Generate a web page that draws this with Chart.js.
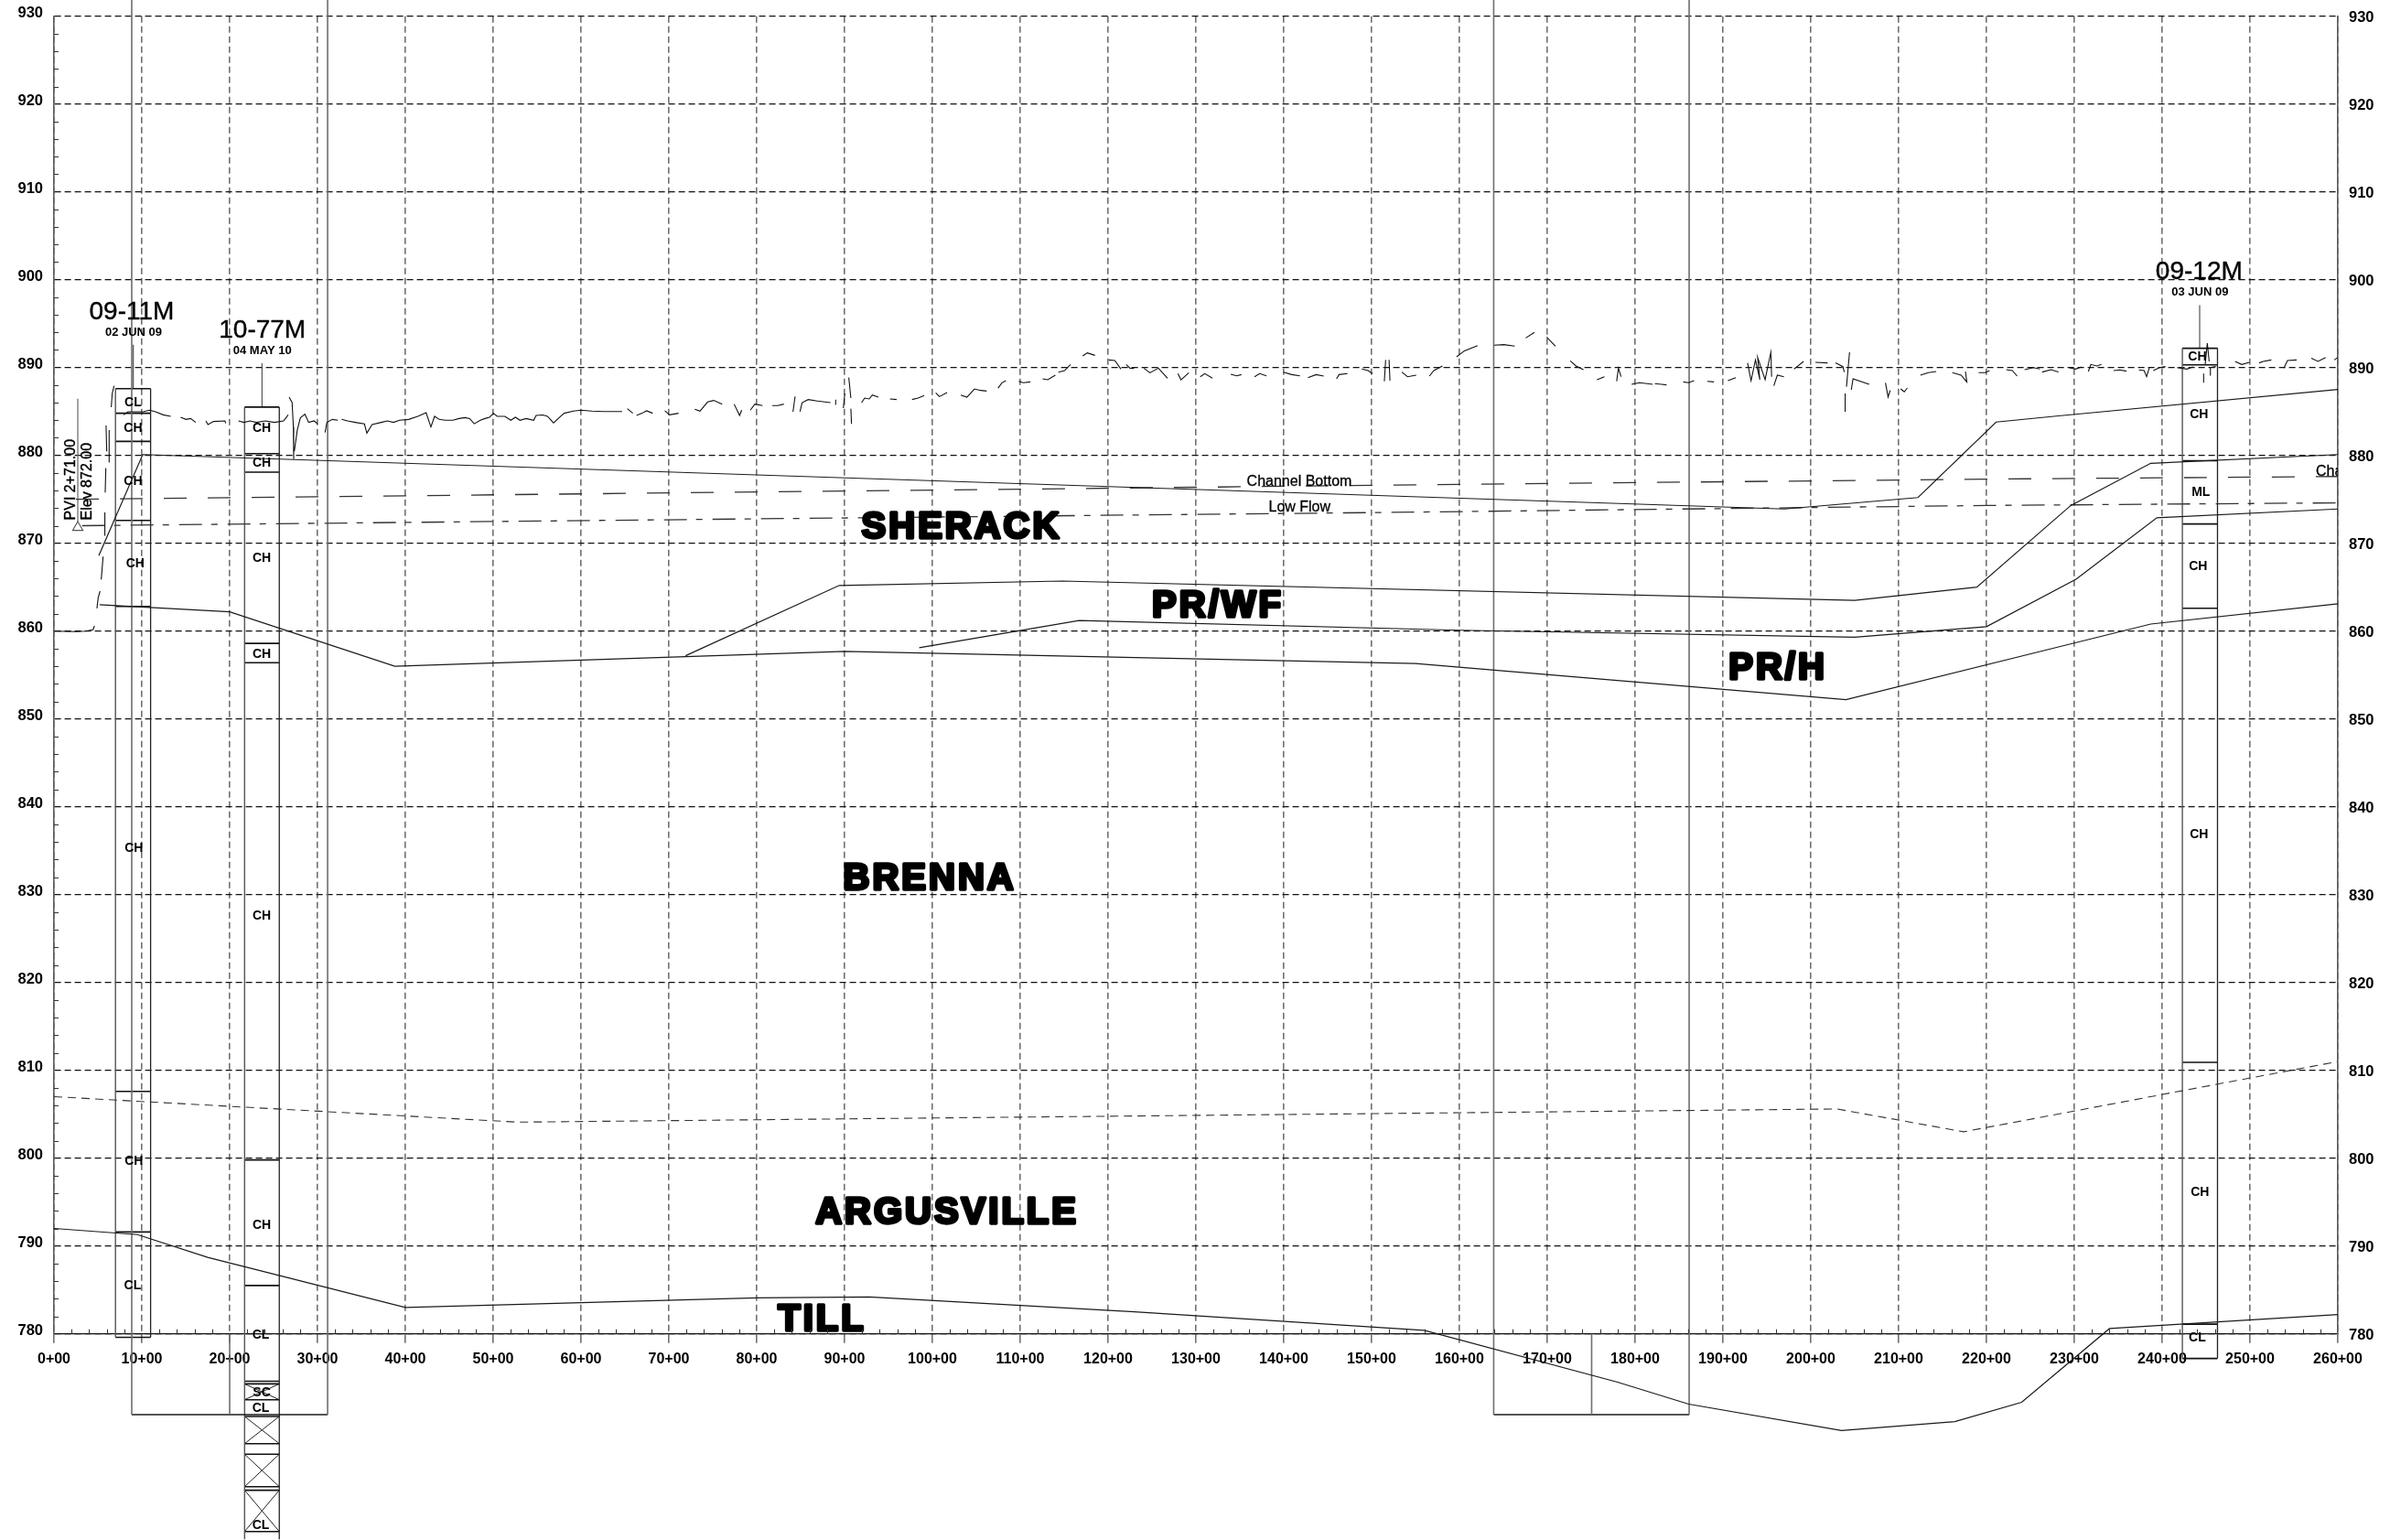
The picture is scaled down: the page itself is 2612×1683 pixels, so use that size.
<!DOCTYPE html>
<html>
<head>
<meta charset="utf-8">
<title>Profile</title>
<script src="https://cdn.jsdelivr.net/npm/chart.js@4"></script>
<style>html,body{margin:0;padding:0;background:#fff}canvas{display:block}</style>
</head>
<body>
<canvas id="c" width="2612" height="1683"></canvas>
<script>
// ---------- values (stations in 100 ft, elevations in ft) ----------
const stationRange = [0, 260];
const elevationRange = [780, 930];
const sheetTopElev = 931.84;
const frameBottomElev = 770.8;

const topLineSt = [5.1, 10.1, 197, 212.2, 221.1, 228.2, 260];
const topLineEl = [868.6, 880.1, 873.9, 875.2, 883.8, 884.5, 887.5];
const prTopSt = [71.9, 89.4, 114.8, 205, 218.9, 229.6, 238.7, 260];
const prTopEl = [857.2, 865.2, 865.7, 863.5, 865, 874.3, 879.1, 880.1];
const prMidSt = [98.5, 116.7, 160, 205, 220, 230.2, 239.4, 260];
const prMidEl = [858.1, 861.2, 860.1, 859.3, 860.5, 865.9, 872.9, 873.9];
const prBottomSt = [5.2, 20, 38.8, 90, 155, 204, 228.2, 238.7, 260];
const prBottomEl = [863, 862.2, 856, 857.7, 856.3, 852.2, 858.2, 860.8, 863.1];
const brennaBaseSt = [0, 52.8, 203, 217.4, 260];
const brennaBaseEl = [807, 804.1, 805.6, 803, 811];
const tillTopSt = [0, 9.5, 17.5, 40, 80, 92.8, 123, 156, 178, 186.1, 203.5, 216.4, 224, 234, 260];
const tillTopEl = [792, 791.3, 788.7, 783, 784.1, 784.2, 782.5, 780.4, 774.5, 772, 769, 770, 772.2, 780.6, 782.2];
const channelBottomSt = [2.5, 160, 220, 260];
const channelBottomEl = [875, 876.7, 877.3, 877.6];
const lowFlowSt = [3.2, 151, 220, 260];
const lowFlowEl = [872, 873.5, 874.3, 874.6];

const groundSt = [
0,2.53,3.57,4.44,4.61,null,
4.89,5.03,5.24,null,
5.38,5.59,null,
5.73,5.79,null,
5.83,5.9,null,
6,5.93,null,
6.25,6.28,null,
6.52,6.63,6.84,null,
7.91,8.43,9.13,10.17,10.86,11.56,12.43,13.29,null,
14.41,15.03,15.55,16.14,null,
17.29,17.53,18.16,19.47,19.54,null,
21,21.63,22.32,23.02,24.06,25.1,26.14,26.66,null,
26.77,27.11,27.25,27.29,null,
27.36,27.7,28.05,28.57,28.99,29.61,30.03,null,
30.86,31.07,31.7,32.32,null,
32.74,33.43,34.3,35.34,35.62,36.21,37.25,37.95,38.64,39.34,40.38,41.42,42.36,42.91,43.33,
43.85,44.54,45.41,46.11,46.8,47.32,47.84,48.54,49.06,49.58,50.03,50.45,51.32,52.01,52.53,53.05,53.75,54.61,54.89,55.66,56.18,56.87,57.57,58.09,59.13,60,61.21,62.6,63.64,64.68,null,
65.27,65.9,null,
66.32,66.94,67.46,68.16,null,
69.54,70.07,71.11,null,
72.95,73.54,74.41,75.1,76.07,null,
77.43,78.05,78.29,null,
79.27,79.79,80.66,null,
81.77,82.39,83.09,null,
84.13,84.37,null,
84.93,85.17,85.86,86.91,88.4,null,
88.99,88.99,null,
89.86,90.03,null,
90.48,90.72,null,
90.72,90.79,null,
91.94,92.29,92.81,93.16,93.85,null,
95.17,95.93,null,
97.68,98.37,99.07,null,
100.38,100.8,101.67,null,
103.23,103.93,104.79,105.49,106.18,null,
107.47,107.92,108.37,null,
109.83,110.35,111.15,null,
112.54,113.13,114,null,
114.34,115.04,115.73,null,
117.12,117.64,118.51,null,
120.07,120.77,121.46,null,
122.05,122.5,122.95,null,
124.07,124.76,125.73,126.77,null,
127.95,128.3,129.2,null,
130.49,131.01,131.88,null,
133.96,134.65,135.18,null,
136.67,137.26,138.03,null,
139.97,140.91,141.84,null,
142.75,143.68,144.55,null,
146.01,146.29,147.26,null,
148.89,149.59,150.11,null,
151.45,151.6,null,
152.09,151.99,null,
153.44,154.09,155.08,null,
156.58,157.08,158.07,null,
159.67,160.56,162.06,null,
163.95,165.05,166.29,null,
167.54,168.54,null,
169.93,170.93,null,
172.62,173.27,174.12,null,
175.66,176.51,null,
177.9,178.1,178.4,null,
179.6,180.5,182,null,
182.24,182.99,183.58,null,
185.48,186.08,186.72,null,
188.22,188.97,null,
190.56,191.46,null,
192.8,193.2,193.7,194.2,193.95,194.8,195.45,195.54,null,
195.79,196.19,196.94,null,
198.08,199.18,null,
200.52,201.92,null,
202.81,203.66,203.81,null,
204.41,204.06,null,
204.61,204.81,206.65,null,
203.91,203.91,null,
208.5,208.8,209.04,null,
210.24,210.64,210.99,null,
212.48,213.38,214.28,null,
216.12,217.11,217.76,217.61,null,
219.11,219.86,220.35,null,
222.25,222.95,223.49,null,
224.34,225.34,226.08,null,
226.33,227.33,228.2,null,
229.38,230.14,230.83,null,
231.6,231.88,232.57,233.09,null,
234.48,235.17,235.94,null,
237.36,237.95,238.23,238.54,null,
238.99,239.69,240.38,null,
241.7,242.81,243.51,null,
244.72,244.72,null,
244.9,245.14,245.35,null,
245.42,245.49,246.11,null,
248.3,249.06,249.93,null,
251.04,251.5,252.43,null,
253.86,254.27,255.31,null,
256.98,257.74,258.61,null,
259.58,260
];
const groundEl = [
860,859.94,860,860.15,860.6,null,
862.58,863.79,864.55,null,
865.87,868.48,null,
870.91,873.51,null,
875.77,878.55,null,
880.46,883.41,null,
879.24,882.89,null,
885.49,887.05,887.92,null,
884.62,884.97,884.97,884.97,885.15,884.97,884.62,884.45,null,
884.35,884.1,884.2,883.76,null,
883.93,883.51,883.86,883.93,883.65,null,
883.93,883.76,883.93,883.76,883.93,883.76,883.93,884.62,null,
886.64,886.01,883.24,879.59,null,
880.46,882.89,884.28,884.69,883.76,883.93,883.58,null,
882.61,883.76,884.1,884,null,
884.1,883.93,883.76,883.58,882.54,883.51,883.76,883.93,883.76,884,884.1,884.45,884.86,883.24,884.45,
884.1,884,884,884.2,884.3,884.2,883.6,884,884.2,884.35,884.8,884.45,884.45,884,884.35,884,884.2,884,884.55,884.6,884.45,883.7,884.35,884.8,885.05,885.15,885.05,885,885,885,null,
885.32,884.8,null,
884.55,884.8,885.08,884.8,null,
885.08,884.62,884.8,null,
885.25,885.04,886.08,886.26,885.84,null,
885.84,884.55,885.15,null,
885.15,885.84,885.67,null,
885.67,885.67,885.84,null,
884.97,886.71,null,
884.97,886.01,886.36,886.19,886.01,null,
886.36,885.74,null,
885.39,887.05,null,
888.86,886.53,null,
885.32,883.58,null,
886.01,886.53,886.43,886.88,886.64,null,
886.43,886.36,null,
886.36,886.53,886.81,null,
887.12,886.7,887.15,null,
886.88,886.63,887.57,887.4,887.33,null,
887.67,888.27,888.51,null,
888.44,888.27,888.37,null,
888.72,888.61,889.13,null,
889.48,889.65,890.35,null,
891.32,891.67,891.39,null,
890.87,890.8,889.83,null,
890.35,889.93,889.9,null,
889.93,889.41,889.93,888.79,null,
889.31,888.61,889.41,null,
888.96,889.31,888.79,null,
889.24,889.06,889.2,null,
888.96,889.31,889.06,null,
889.48,889.2,889.06,null,
888.86,889.2,889.03,null,
888.72,889.2,889.31,null,
889.83,889.65,889.31,null,
888.44,890.87,null,
888.51,890.87,null,
889.48,888.96,889.14,null,
889.03,889.66,890.18,null,
891.22,891.91,892.5,null,
892.54,892.61,892.44,null,
893.37,894,null,
893.48,892.44,null,
890.77,890.18,889.76,null,
888.62,888.96,null,
888.44,889.94,888.96,null,
888.1,888.27,888.1,null,
888.17,888.1,888.03,null,
888.37,888.27,888.51,null,
888.44,888.37,null,
888.51,888.86,null,
890.53,888.51,890.87,888.62,891.15,888.62,891.74,888.96,null,
887.92,889.14,888.96,null,
889.83,890.7,null,
890.6,890.53,null,
890.53,890.11,889.48,null,
891.74,887.82,null,
887.47,888.72,888.1,null,
887.05,884.97,null,
888.27,886.64,887.4,null,
887.57,887.23,887.68,null,
889.14,889.42,889.55,null,
889.42,889.14,888.37,889.55,null,
889.42,889.42,889.66,null,
889.76,889.66,889.03,null,
889.76,890,889.83,null,
889.49,889.76,889.49,null,
890,889.83,890.07,null,
889.55,890.35,890.18,890.35,null,
889.66,889.73,889.59,null,
889.73,889.66,888.96,890,null,
889.66,890,890.11,null,
890,889.83,890.07,null,
889.31,888.27,null,
890.35,892.78,890.7,null,
889.14,890,890.11,null,
890.7,890.35,890.6,null,
890.53,890.7,890.87,null,
889.94,890.8,890.87,null,
891.05,890.7,891.15,null,
890.87,891.15
];

// frames reaching past the top of the sheet
const frameStations = [8.85, 31.15, 163.9, 186.15];
const frameInnerStations = [20, 175.05];

// boreholes
const boreholeNames = ['09-11M', '10-77M', '09-12M'];
const boreholeDates = ['02 JUN 09', '04 MAY 10', '03 JUN 09'];
const boreholeLeft = [7, 21.7, 242.3];
const boreholeRight = [11, 25.65, 246.3];
const boreholeTop = [887.6, 885.5, 892.2];
const boreholeBottom = [779.6, 756.6, 777.2];
const stemStations = [9.03, 23.68, 244.27];
const stemTops = [892.6, 890.5, 897.1];
const nameStations = [8.85, 23.72, 244.2];
const nameElevs = [896.53, 894.45, 901.11];
const dateStations = [9.06, 23.72, 244.3];
const dateElevs = [894.06, 891.98, 898.65];
const layers0911 = [887.6, 884.8, 881.6, 872.6, 862.8, 807.6, 791.6, 779.6];
const layers1077 = [885.5, 880.2, 878.1, 858.6, 856.4, 799.8, 785.5, 774.6, 774.3, 772.5, 770.6, 767.5, 766.3, 762.6, 762.2, 757.5];
const layers0912 = [892.2, 890.3, 879.4, 872.2, 862.6, 810.9, 781.1, 777.2];
const crossBoxTops = [774.3, 770.6, 766.3, 762.2];
const crossBoxBottoms = [772.5, 767.5, 762.6, 757.5];

const soilText = ['CL','CH','CH','CH','CH','CH','CL', 'CH','CH','CH','CH','CH','CH','CL','SC','CL','CL', 'CH','CH','ML','CH','CH','CH','CL'];
const soilSt = [9,9,9,9.25,9.1,9.1,8.95, 23.65,23.65,23.65,23.65,23.65,23.65,23.55,23.65,23.55,23.55, 244,244.2,244.4,244.1,244.2,244.3,244];
const soilEl = [886.1,883.2,877.1,867.8,835.4,799.8,785.6, 883.2,879.2,868.4,857.5,827.7,792.5,780,773.4,771.6,758.3, 891.3,884.8,875.9,867.5,836.9,796.2,779.6];

const unitText = ['SHERACK','PR/WF','PR/H','BRENNA','ARGUSVILLE','TILL'];
const unitSt = [103.33,132.5,196.25,99.7,101.67,87.45];
const unitEl = [872.05,863.09,856,832.05,794.03,781.84];

const noteText = ['Channel Bottom','Low Flow'];
const noteSt = [141.77,141.8];
const noteEl = [877.16,874.24];
const edgeNoteSt = 257.5, edgeNoteEl = 878.3, edgeNoteText = 'Channel Bottom';

const pviStation = 2.71, pviTop = 886.45, pviMarkerEl = 871.8;
const pviText = ['PVI 2+71.00','Elev 872.00'];
const pviTextSt = [1.77,3.65];
const pviTextEl = [877.24,877.03];

// ---------- building the datasets ----------
const FONT = "'Liberation Sans', Arial, sans-serif";
Chart.defaults.font.family = FONT;
const zip = (xs, ys) => xs.map((x, i) => ({x, y: ys[i]}));
const datasets = [];
function addLine(xs, ys, color, width, dash) {
  datasets.push({type:'line', data: zip(xs, ys), borderColor: color, borderWidth: width,
    borderDash: dash || [], pointRadius: 0, pointHoverRadius: 0, tension: 0, spanGaps: false,
    clip: false, fill: false, borderCapStyle: 'butt', borderJoinStyle: 'miter', xAxisID:'x', yAxisID:'y'});
}
function rows(xa, xb, levels) {
  const xs = [], ys = [];
  levels.forEach(l => { xs.push(xa, xb, null); ys.push(l, l, null); });
  return [xs, ys];
}
const LINE = '#1a1a1a', FRAME = '#6e6e6e';

addLine(groundSt, groundEl, '#111', 1.1);
addLine(topLineSt, topLineEl, LINE, 1.2);
addLine(prTopSt, prTopEl, LINE, 1.2);
addLine(prMidSt, prMidEl, LINE, 1.2);
addLine(prBottomSt, prBottomEl, LINE, 1.2);
addLine(tillTopSt, tillTopEl, LINE, 1.2);
addLine(brennaBaseSt, brennaBaseEl, '#333', 1.1, [9, 6]);
addLine(channelBottomSt, channelBottomEl, '#333', 1.3, [25, 23]);
addLine(lowFlowSt, lowFlowEl, '#333', 1.3, [25, 10, 7, 11]);

// frames
frameStations.forEach(s => addLine([s, s], [sheetTopElev, frameBottomElev], FRAME, 1.6));
frameInnerStations.forEach(s => addLine([s, s], [elevationRange[0], frameBottomElev], FRAME, 1.6));
addLine([frameStations[0], frameStations[1]], [frameBottomElev, frameBottomElev], LINE, 1.3);
addLine([frameStations[2], frameStations[3]], [frameBottomElev, frameBottomElev], LINE, 1.3);

// boreholes
[layers0911, layers1077, layers0912].forEach((lv, i) => {
  const a = boreholeLeft[i], b = boreholeRight[i];
  addLine([a, a], [boreholeTop[i], boreholeBottom[i]], '#555', 1.4);
  addLine([b, b], [boreholeTop[i], boreholeBottom[i]], '#222', 1.3);
  const [xs, ys] = rows(a, b, lv);
  addLine(xs, ys, '#111', 1.6);
  addLine([stemStations[i], stemStations[i]], [stemTops[i], boreholeTop[i]], '#444', 1.1);
});
crossBoxTops.forEach((t, i) => {
  const a = boreholeLeft[1], b = boreholeRight[1], e = crossBoxBottoms[i];
  addLine([a, b, null, a, b], [t, e, null, e, t], '#222', 1);
});

// PVI
addLine([pviStation, pviStation], [pviTop, pviMarkerEl + 0.6], '#666', 1.2);
datasets.push({type:'scatter', data:[{x:pviStation, y:pviMarkerEl}], pointStyle:'triangle', pointRadius:6.5,
  pointBackgroundColor:'#fff', pointBorderColor:'#555', pointBorderWidth:1.1, clip:false, xAxisID:'x', yAxisID:'y'});

// ---------- text and small ticks, all placed through the chart's scales ----------
const sheetText = {
  id:'sheetText',
  afterDatasetsDraw(chart) {
    const {ctx, scales:{x, y}, chartArea} = chart;
    const put = (t, st, el, font, opt = {}) => {
      const size = parseFloat(font.match(/([\d.]+)px/)[1]);
      const drop = size * 0.075;   // centre capitals, not the em box, on the anchor
      ctx.save();
      ctx.font = font;
      ctx.fillStyle = '#000';
      ctx.textAlign = opt.align || 'center';
      ctx.textBaseline = 'middle';
      ctx.translate(x.getPixelForValue(st), y.getPixelForValue(el));
      if (opt.rotate) ctx.rotate(opt.rotate);
      if (opt.spacing) ctx.letterSpacing = opt.spacing + 'px';
      if (opt.stroke) { ctx.strokeStyle = '#000'; ctx.lineWidth = opt.stroke; ctx.lineJoin = 'round'; ctx.strokeText(t, 0, drop); }
      ctx.fillText(t, 0, drop);
      ctx.restore();
    };
    boreholeNames.forEach((t, i) => put(t, nameStations[i], nameElevs[i], `28px ${FONT}`, {stroke:0.4}));
    boreholeDates.forEach((t, i) => put(t, dateStations[i], dateElevs[i], `bold 13px ${FONT}`));
    soilText.forEach((t, i) => put(t, soilSt[i], soilEl[i], `bold 14px ${FONT}`));
    unitText.forEach((t, i) => put(t, unitSt[i], unitEl[i], `bold 40px ${FONT}`, {stroke:3.5, spacing:3}));
    noteText.forEach((t, i) => put(t, noteSt[i], noteEl[i], `16px ${FONT}`, {stroke:0.3}));
    pviText.forEach((t, i) => put(t, pviTextSt[i], pviTextEl[i], `16px ${FONT}`, {rotate:-Math.PI/2, stroke:0.4}));
    ctx.save();
    ctx.beginPath();
    ctx.rect(chartArea.left, 0, chartArea.width, chart.height);
    ctx.clip();
    put(edgeNoteText, edgeNoteSt, edgeNoteEl, `16px ${FONT}`, {align:'left', stroke:0.3});
    ctx.restore();

    // minor ticks point inward
    ctx.save();
    ctx.strokeStyle = '#333';
    ctx.lineWidth = 1;
    ctx.beginPath();
    x.ticks.forEach((t, i) => { if (t.value % 10 !== 0) {
      const p = Math.round(x.getPixelForTick(i)) + 0.5;
      ctx.moveTo(p, chartArea.bottom); ctx.lineTo(p, chartArea.bottom - 5);
    }});
    y.ticks.forEach((t, i) => { if (t.value % 10 !== 0) {
      const p = Math.round(y.getPixelForTick(i)) + 0.5;
      ctx.moveTo(chartArea.left, p); ctx.lineTo(chartArea.left + 5, p);
    }});
    ctx.stroke();
    ctx.restore();
  }
};

const major = v => v % 10 === 0;
const noEdgePadding = s => { s.paddingTop = 0; s.paddingBottom = 0; s.paddingLeft = 0; s.paddingRight = 0; };
new Chart(document.getElementById('c'), {
  data: {datasets},
  plugins: [sheetText],
  options: {
    responsive: false,
    devicePixelRatio: 1,
    animation: false,
    events: [],
    layout: {padding: {top: 17.7, left: 0, right: 0, bottom: 0}},
    plugins: {legend: {display: false}, tooltip: {enabled: false}, title: {display: false}},
    scales: {
      x: {
        type: 'linear', position: 'bottom', min: stationRange[0], max: stationRange[1],
        afterFit: s => { s.height = 225.3; noEdgePadding(s); },
        border: {display: true, color: '#111', width: 1.3, dash: [7, 4]},
        grid: {
          color: c => major(c.tick.value) ? '#707070' : 'rgba(0,0,0,0)',
          tickColor: c => major(c.tick.value) ? '#707070' : 'rgba(0,0,0,0)',
          lineWidth: 1.6, tickWidth: 1.6, tickLength: 10, tickBorderDash: []
        },
        ticks: {
          stepSize: 2, autoSkip: false, maxRotation: 0, minRotation: 0, padding: 8, color: '#000',
          font: {size: 16, weight: 'bold'},
          callback: v => major(v) ? `${v}+00` : ''
        }
      },
      y: {
        type: 'linear', position: 'left', min: elevationRange[0], max: elevationRange[1],
        afterFit: s => { s.width = 59; noEdgePadding(s); },
        border: {display: true, color: '#5a5a5a', width: 1.6, dash: [7, 4]},
        grid: {
          color: c => major(c.tick.value) ? '#111' : 'rgba(0,0,0,0)',
          lineWidth: 1.2, drawTicks: false
        },
        ticks: {
          stepSize: 2, autoSkip: false, padding: 12, color: '#000', labelOffset: -3.5,
          font: {size: 16.5, weight: 'bold'},
          callback: v => major(v) ? String(v) : ''
        }
      },
      yRight: {
        type: 'linear', position: 'right', min: elevationRange[0], max: elevationRange[1],
        afterFit: s => { s.width = 57; noEdgePadding(s); },
        border: {display: true, color: '#5a5a5a', width: 1.6},
        grid: {display: true, drawOnChartArea: false, drawTicks: false},
        ticks: {
          stepSize: 10, autoSkip: false, padding: 12, color: '#000', labelOffset: 2,
          font: {size: 16.5, weight: 'bold'},
          callback: v => String(v)
        }
      }
    }
  }
});
</script>
</body>
</html>
